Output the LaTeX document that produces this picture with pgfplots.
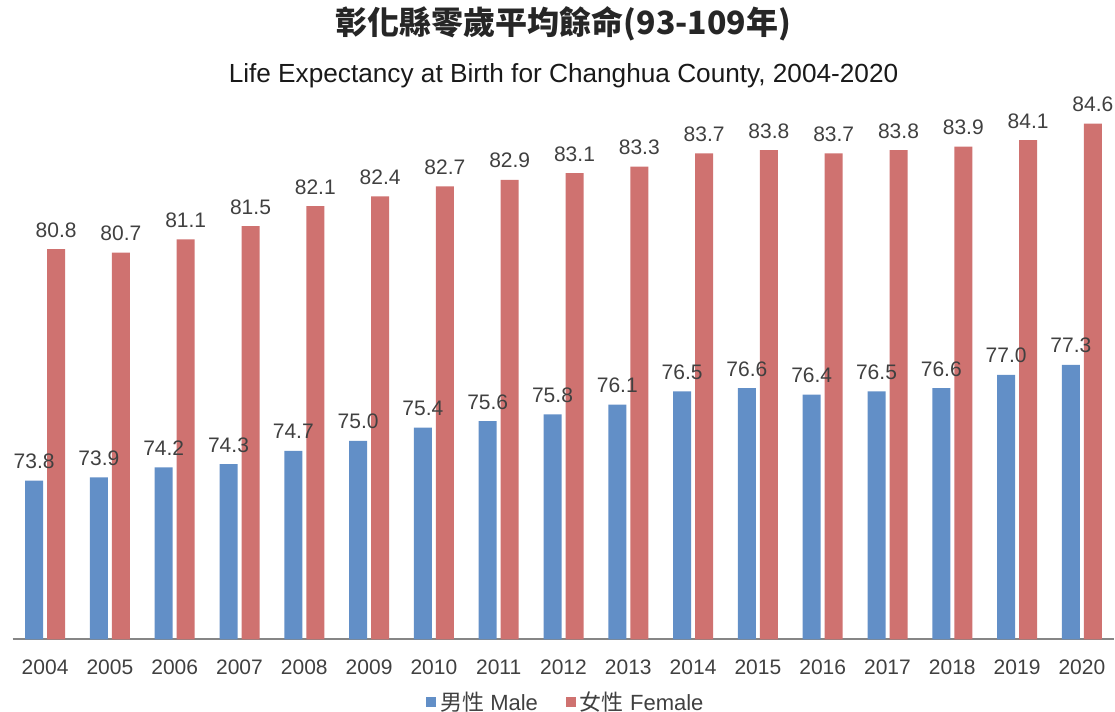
\documentclass[border=0pt]{standalone}
\usepackage{pgfplots}
\pgfplotsset{compat=1.18}
\usepackage{fontspec}
\setmainfont{Liberation Sans}
\newfontfamily\cjk{Noto Sans CJK TC}
\definecolor{mblue}{RGB}{98,143,199}
\definecolor{fred}{RGB}{207,114,112}
\definecolor{txt}{RGB}{64,64,64}
\definecolor{axgray}{RGB}{134,134,134}
\begin{document}
\begin{tikzpicture}
\useasboundingbox (-6.35pt,-36.35pt) rectangle (551.15pt,319.65pt);
\begin{axis}[
  at={(0,0)}, anchor=south west,
  scale only axis, width=550.8pt, height=281pt,
  xmin=-0.5, xmax=16.5, ymin=69, ymax=86,
  axis y line=none,
  axis x line*=bottom,
  x axis line style={draw=axgray, line width=1pt, -},
  xtick={0,...,16},
  xticklabels={2004,2005,2006,2007,2008,2009,2010,2011,2012,2013,2014,2015,2016,2017,2018,2019,2020},
  xtick style={draw=none},
  xticklabel style={font=\fontsize{10.5}{12}\selectfont, text=txt, anchor=base, yshift=-13.2pt},
  ybar=2pt, bar width=9pt,
  nodes near coords={\pgfmathprintnumber[fixed,fixed zerofill,precision=1,assume math mode=true]{\pgfplotspointmeta}},
  every node near coord/.append style={font=\fontsize{10.5}{12}\selectfont, text=txt, anchor=base, inner sep=0pt, yshift=6pt},
  legend style={at={(0.503,0)}, anchor=center, yshift=-31.5pt, draw=none, fill=none,
    legend columns=2, font=\fontsize{11}{13}\selectfont, text=txt,
    /tikz/every even column/.append style={column sep=12pt}},
  legend image code/.code={\fill[#1] (0pt,-2.5pt) rectangle (5pt,2.5pt);},
]
\addplot[fill=mblue, draw=none] coordinates {
(0,73.8) (1,73.9) (2,74.2) (3,74.3) (4,74.7) (5,75.0) (6,75.4) (7,75.6) (8,75.8)
(9,76.1) (10,76.5) (11,76.6) (12,76.4) (13,76.5) (14,76.6) (15,77.0) (16,77.3)};
\addplot[fill=fred, draw=none] coordinates {
(0,80.8) (1,80.7) (2,81.1) (3,81.5) (4,82.1) (5,82.4) (6,82.7) (7,82.9) (8,83.1)
(9,83.3) (10,83.7) (11,83.8) (12,83.7) (13,83.8) (14,83.9) (15,84.1) (16,84.6)};
\legend{{\cjk 男性} Male, {\cjk 女性} Female}
\end{axis}
\node[anchor=base, font=\cjk\bfseries\fontsize{16}{19}\selectfont, text=black!85] at (275.4pt,302.2pt) {彰化縣零歲平均餘命(93-109年)};
\node[anchor=base, font=\fontsize{13.1}{15}\selectfont, text=black!90] at (275.4pt,278.2pt) {Life Expectancy at Birth for Changhua County, 2004-2020};
\end{tikzpicture}
\end{document}
